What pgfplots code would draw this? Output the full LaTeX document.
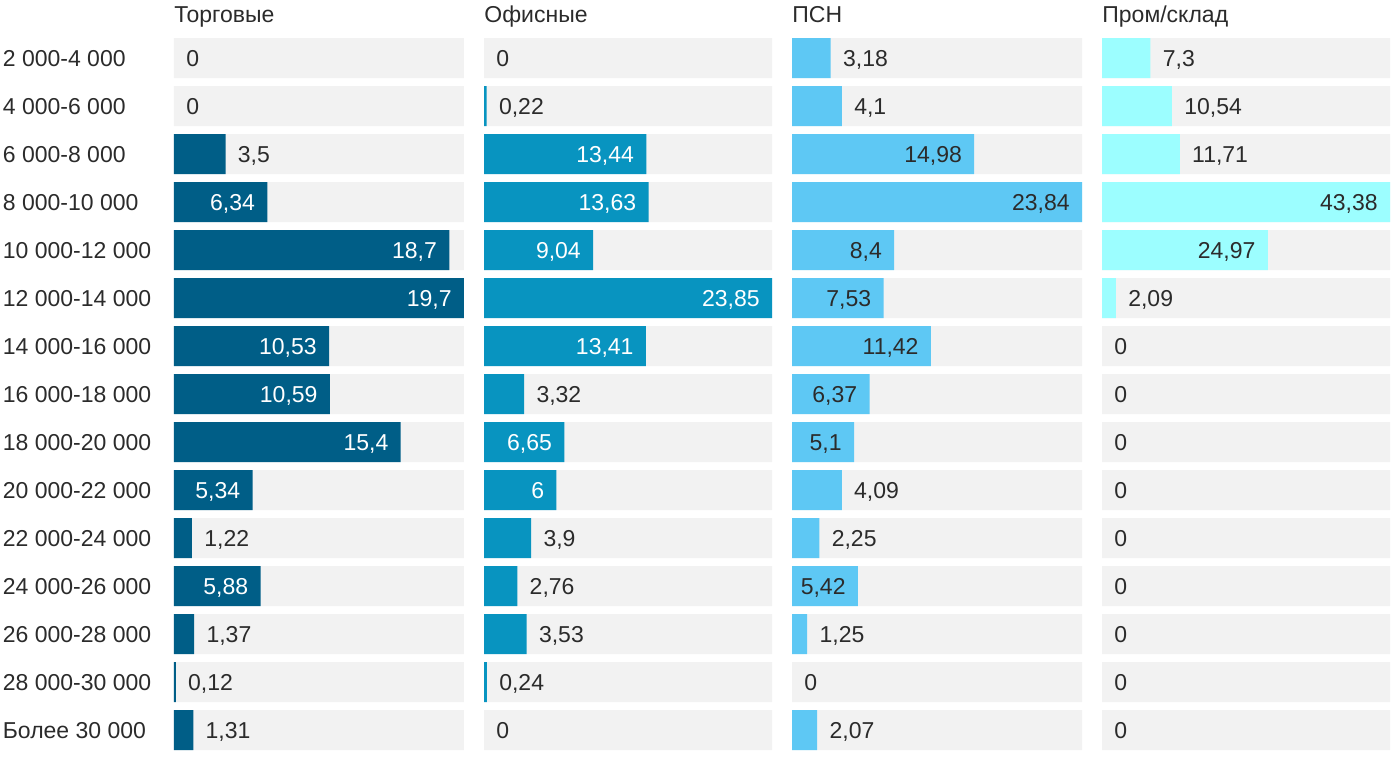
\documentclass[border=0pt]{standalone}
\usepackage{fontspec}
\setmainfont{Liberation Sans}
\usepackage{pgfplots}
\usepackage{pgfplotstable}
\pgfplotsset{compat=1.18}

\definecolor{cTorg}{HTML}{005E87}
\definecolor{cOfis}{HTML}{0894C0}
\definecolor{cPsn}{HTML}{5EC8F4}
\definecolor{cProm}{HTML}{9CFEFF}
\definecolor{bggrey}{HTML}{F2F2F2}
\definecolor{txtdark}{HTML}{2B2B2B}

% y = row, v = share, bg = panel maximum (grey track),
% lbl = printed label, pin = 1 if the label sits inside the bar
\pgfplotstableread{
y v bg lbl pin
0 0 19.7 0 0
1 0 19.7 0 0
2 3.5 19.7 3,5 0
3 6.34 19.7 6,34 1
4 18.7 19.7 18,7 1
5 19.7 19.7 19,7 1
6 10.53 19.7 10,53 1
7 10.59 19.7 10,59 1
8 15.4 19.7 15,4 1
9 5.34 19.7 5,34 1
10 1.22 19.7 1,22 0
11 5.88 19.7 5,88 1
12 1.37 19.7 1,37 0
13 0.12 19.7 0,12 0
14 1.31 19.7 1,31 0
}\torg

\pgfplotstableread{
y v bg lbl pin
0 0 23.85 0 0
1 0.22 23.85 0,22 0
2 13.44 23.85 13,44 1
3 13.63 23.85 13,63 1
4 9.04 23.85 9,04 1
5 23.85 23.85 23,85 1
6 13.41 23.85 13,41 1
7 3.32 23.85 3,32 0
8 6.65 23.85 6,65 1
9 6 23.85 6 1
10 3.9 23.85 3,9 0
11 2.76 23.85 2,76 0
12 3.53 23.85 3,53 0
13 0.24 23.85 0,24 0
14 0 23.85 0 0
}\ofis

\pgfplotstableread{
y v bg lbl pin
0 3.18 23.84 3,18 0
1 4.1 23.84 4,1 0
2 14.98 23.84 14,98 1
3 23.84 23.84 23,84 1
4 8.4 23.84 8,4 1
5 7.53 23.84 7,53 1
6 11.42 23.84 11,42 1
7 6.37 23.84 6,37 1
8 5.1 23.84 5,1 1
9 4.09 23.84 4,09 0
10 2.25 23.84 2,25 0
11 5.42 23.84 5,42 1
12 1.25 23.84 1,25 0
13 0 23.84 0 0
14 2.07 23.84 2,07 0
}\psn

\pgfplotstableread{
y v bg lbl pin
0 7.3 43.38 7,3 0
1 10.54 43.38 10,54 0
2 11.71 43.38 11,71 0
3 43.38 43.38 43,38 1
4 24.97 43.38 24,97 1
5 2.09 43.38 2,09 0
6 0 43.38 0 0
7 0 43.38 0 0
8 0 43.38 0 0
9 0 43.38 0 0
10 0 43.38 0 0
11 0 43.38 0 0
12 0 43.38 0 0
13 0 43.38 0 0
14 0 43.38 0 0
}\prom

\newcommand{\chartfont}{\fontsize{11.5}{13}\selectfont}

\pgfplotsset{
  panel/.style={
    scale only axis, height=360pt,
    xbar, bar shift=0pt, bar width=0.8333,
    y dir=reverse, ymin=-0.5, ymax=14.5,
    xmin=0, enlargelimits=false, clip=false,
    hide x axis,
    y axis line style={draw=none},
    ytick style={draw=none},
    ytick=\empty,
    title style={at={(0,1)}, anchor=base west, inner sep=0pt,
      font=\chartfont, text=txtdark},
  },
  track/.style={fill=bggrey, draw=none},
  valbar/.style={draw=none, fill=#1, restrict x to domain=0.001:1000},
  vallabels/.style n args={4}{draw=none, fill=none,
    restrict expr to domain={\thisrow{pin}}{#1},
    point meta=explicit symbolic,
    nodes near coords={\pgfplotspointmeta},
    every node near coord/.append style={anchor=#2, xshift=#3,
      text=#4, inner sep=0pt, text height=8.2pt, text depth=0pt,
      font=\chartfont},
  },
  inlab/.style={vallabels={0.5:1.5}{east}{-6pt}{#1}},
  outlab/.style={vallabels={-0.5:0.5}{west}{6pt}{txtdark}},
}

\begin{document}
\begin{tikzpicture}
\path[use as bounding box] (-87pt,-6pt) rectangle (613pt,377pt);

\begin{axis}[panel, at={(0pt,0pt)}, width=145pt, xmax=19.7,
  title={Торговые},
  ytick={0,...,14},
  yticklabels={2 000-4 000,4 000-6 000,6 000-8 000,8 000-10 000,
    10 000-12 000,12 000-14 000,14 000-16 000,16 000-18 000,
    18 000-20 000,20 000-22 000,22 000-24 000,24 000-26 000,
    26 000-28 000,28 000-30 000,Более 30 000},
  yticklabel style={anchor=west, xshift=-81.5pt, inner sep=0pt,
    text height=8.2pt, text depth=0pt, font=\chartfont, text=txtdark},
]
\addplot[track] table[x=bg, y=y] {\torg};
\addplot[valbar=cTorg] table[x=v, y=y] {\torg};
\addplot[inlab=white] table[x=v, y=y, meta=lbl] {\torg};
\addplot[outlab] table[x=v, y=y, meta=lbl] {\torg};
\end{axis}

\begin{axis}[panel, at={(155pt,0pt)}, width=144pt, xmax=23.85,
  title={Офисные}]
\addplot[track] table[x=bg, y=y] {\ofis};
\addplot[valbar=cOfis] table[x=v, y=y] {\ofis};
\addplot[inlab=white] table[x=v, y=y, meta=lbl] {\ofis};
\addplot[outlab] table[x=v, y=y, meta=lbl] {\ofis};
\end{axis}

\begin{axis}[panel, at={(309pt,0pt)}, width=145pt, xmax=23.84,
  title={ПСН}]
\addplot[track] table[x=bg, y=y] {\psn};
\addplot[valbar=cPsn] table[x=v, y=y] {\psn};
\addplot[inlab=txtdark] table[x=v, y=y, meta=lbl] {\psn};
\addplot[outlab] table[x=v, y=y, meta=lbl] {\psn};
\end{axis}

\begin{axis}[panel, at={(464pt,0pt)}, width=144pt, xmax=43.38,
  title={Пром/склад}]
\addplot[track] table[x=bg, y=y] {\prom};
\addplot[valbar=cProm] table[x=v, y=y] {\prom};
\addplot[inlab=txtdark] table[x=v, y=y, meta=lbl] {\prom};
\addplot[outlab] table[x=v, y=y, meta=lbl] {\prom};
\end{axis}
\end{tikzpicture}
\end{document}
